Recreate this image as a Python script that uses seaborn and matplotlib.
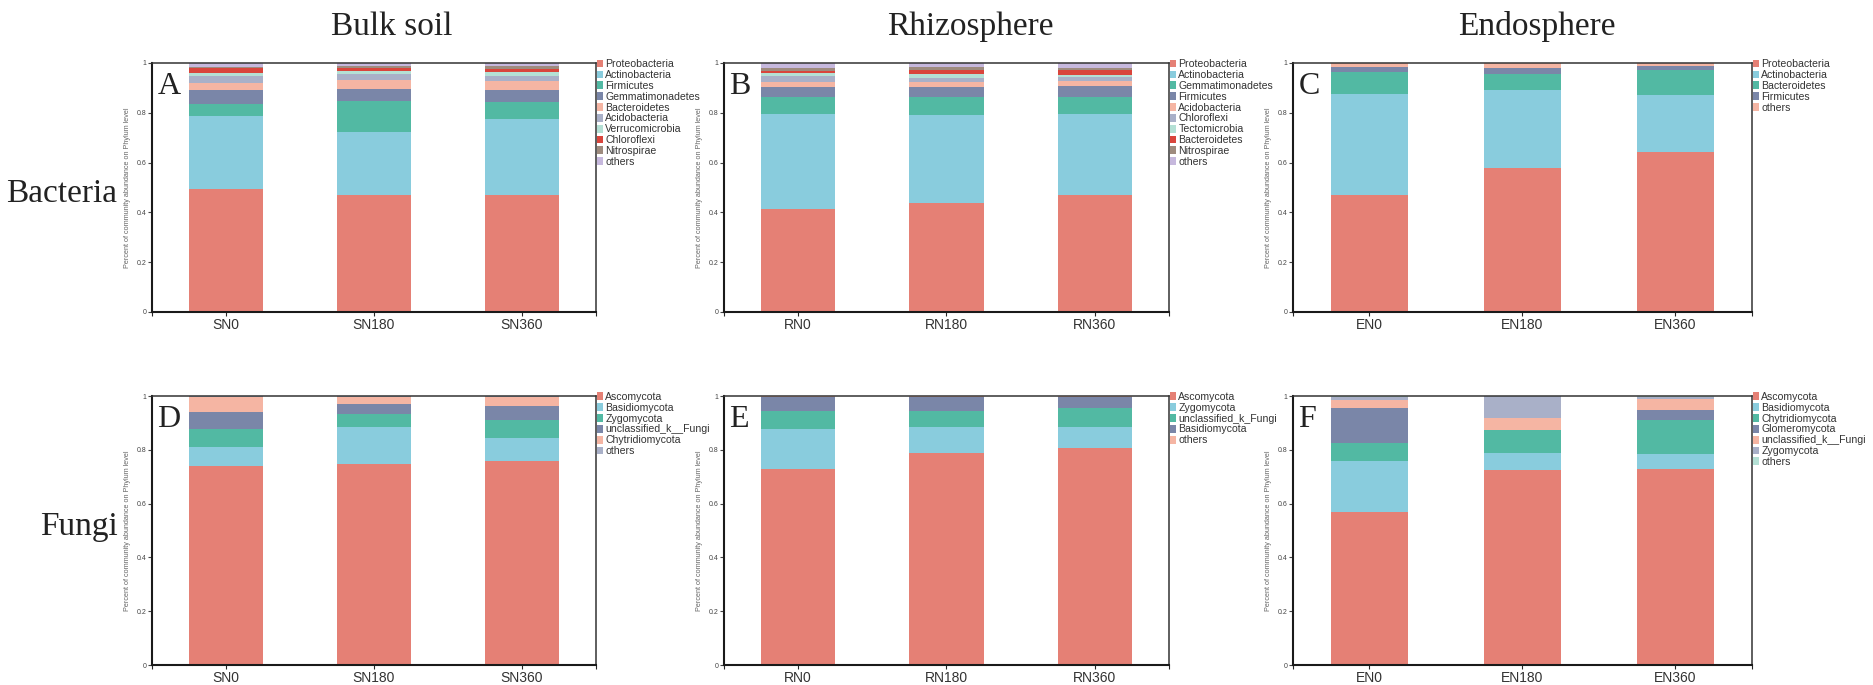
import numpy as np
import seaborn as sns
import matplotlib.pyplot as plt
from matplotlib.patches import Patch

# ---- data (relative abundance, stacked bottom -> top) ----
BULK_SAMPLES = ["SN0", "SN180", "SN360"]
RHIZO_SAMPLES = ["RN0", "RN180", "RN360"]
ENDO_SAMPLES = ["EN0", "EN180", "EN360"]

A_TAXA = ["Proteobacteria", "Actinobacteria", "Firmicutes", "Gemmatimonadetes",
          "Bacteroidetes", "Acidobacteria", "Verrucomicrobia", "Chloroflexi",
          "Nitrospirae", "others"]
A_VALUES = [
    [0.495, 0.471, 0.471],
    [0.292, 0.252, 0.306],
    [0.050, 0.125, 0.068],
    [0.054, 0.048, 0.046],
    [0.030, 0.036, 0.036],
    [0.025, 0.022, 0.021],
    [0.013, 0.013, 0.014],
    [0.020, 0.011, 0.014],
    [0.006, 0.008, 0.010],
    [0.015, 0.014, 0.014],
]

B_TAXA = ["Proteobacteria", "Actinobacteria", "Gemmatimonadetes", "Firmicutes",
          "Acidobacteria", "Chloroflexi", "Tectomicrobia", "Bacteroidetes",
          "Nitrospirae", "others"]
B_VALUES = [
    [0.415, 0.437, 0.468],
    [0.381, 0.353, 0.326],
    [0.066, 0.072, 0.068],
    [0.040, 0.040, 0.044],
    [0.023, 0.023, 0.022],
    [0.022, 0.014, 0.014],
    [0.012, 0.016, 0.008],
    [0.008, 0.015, 0.020],
    [0.013, 0.012, 0.010],
    [0.020, 0.018, 0.020],
]

C_TAXA = ["Proteobacteria", "Actinobacteria", "Bacteroidetes", "Firmicutes", "others"]
C_VALUES = [
    [0.470, 0.579, 0.644],
    [0.407, 0.314, 0.226],
    [0.086, 0.062, 0.103],
    [0.019, 0.024, 0.013],
    [0.018, 0.021, 0.014],
]

D_TAXA = ["Ascomycota", "Basidiomycota", "Zygomycota", "unclassified_k__Fungi",
          "Chytridiomycota", "others"]
D_VALUES = [
    [0.739, 0.749, 0.759],
    [0.072, 0.134, 0.086],
    [0.066, 0.049, 0.066],
    [0.065, 0.037, 0.053],
    [0.056, 0.029, 0.033],
    [0.002, 0.002, 0.003],
]

E_TAXA = ["Ascomycota", "Zygomycota", "unclassified_k_Fungi", "Basidiomycota", "others"]
E_VALUES = [
    [0.728, 0.787, 0.806],
    [0.148, 0.099, 0.080],
    [0.069, 0.059, 0.071],
    [0.050, 0.050, 0.038],
    [0.005, 0.005, 0.005],
]

F_TAXA = ["Ascomycota", "Basidiomycota", "Chytridiomycota", "Glomeromycota",
          "unclassified_k__Fungi", "Zygomycota", "others"]
F_VALUES = [
    [0.570, 0.724, 0.728],
    [0.188, 0.063, 0.057],
    [0.067, 0.086, 0.124],
    [0.131, 0.002, 0.038],
    [0.029, 0.045, 0.040],
    [0.012, 0.080, 0.010],
    [0.003, 0.000, 0.003],
]

COLUMN_TITLES = ["Bulk soil", "Rhizosphere", "Endosphere"]
ROW_TITLES = ["Bacteria", "Fungi"]

PALETTE = ["#E58075", "#89CCDD", "#52B9A3", "#7A86A8", "#F5B5A3",
           "#A9B0C8", "#B4E0D5", "#D9453C", "#9E8B7E", "#C6B8DD"]

sns.set_theme(style="ticks")
plt.rcParams["font.family"] = ["Liberation Sans", "DejaVu Sans"]
SERIF = ["Liberation Serif", "DejaVu Serif"]


def draw_panel(ax, samples, taxa, values, letter):
    cum = np.cumsum(np.array(values), axis=0)
    # draw cumulative totals from the top layer down so each layer overlays
    for i in reversed(range(len(taxa))):
        sns.barplot(x=samples, y=cum[i], color=PALETTE[i], width=0.5,
                    saturation=1, linewidth=0, ax=ax)
    ax.set_xlim(-0.5, 2.5)
    ax.set_ylim(0, 1)
    ax.set_yticks([0, 0.2, 0.4, 0.6, 0.8, 1.0])
    ax.set_yticklabels(["0", "0.2", "0.4", "0.6", "0.8", "1"])
    ax.set_xticks([-0.5, 2.5], minor=True)
    ax.tick_params(axis="y", labelsize=5, colors="#444", length=3, width=0.8, pad=1)
    ax.tick_params(axis="x", which="both", labelsize=10, labelcolor="#333",
                   length=3, width=0.8, pad=1)
    ax.set_ylabel("Percent of community abundance on Phylum level",
                  fontsize=5.2, color="#666", labelpad=4)
    ax.set_xlabel("")
    for side in ["left", "bottom"]:
        ax.spines[side].set_linewidth(1.5)
        ax.spines[side].set_color("#1a1a1a")
    for side in ["top", "right"]:
        ax.spines[side].set_visible(True)
        ax.spines[side].set_linewidth(1.1)
        ax.spines[side].set_color("#333")
    ax.text(0.012, 0.965, letter, transform=ax.transAxes, ha="left", va="top",
            fontsize=23, family=SERIF, color="#222")
    handles = [Patch(facecolor=PALETTE[i], edgecolor="none", label=t)
               for i, t in enumerate(taxa)]
    leg = ax.legend(handles=handles, loc="upper left", bbox_to_anchor=(1.003, 1.015),
                    frameon=False, fontsize=7.6, labelspacing=0.08,
                    handlelength=0.55, handleheight=0.75, handletextpad=0.2,
                    borderpad=0, borderaxespad=0)
    for txt in leg.get_texts():
        txt.set_color("#333")


fig = plt.figure(figsize=(18.74, 6.85), dpi=100)

W, H = 1874, 685
col_px = [(152, 596), (724, 1169), (1293, 1752)]
row_px = [(63, 312), (396, 665)]

panels = [
    [(BULK_SAMPLES, A_TAXA, A_VALUES, "A"),
     (RHIZO_SAMPLES, B_TAXA, B_VALUES, "B"),
     (ENDO_SAMPLES, C_TAXA, C_VALUES, "C")],
    [(BULK_SAMPLES, D_TAXA, D_VALUES, "D"),
     (RHIZO_SAMPLES, E_TAXA, E_VALUES, "E"),
     (ENDO_SAMPLES, F_TAXA, F_VALUES, "F")],
]

for r, (top, bot) in enumerate(row_px):
    for c, (left, right) in enumerate(col_px):
        ax = fig.add_axes([left / W, 1 - bot / H, (right - left) / W, (bot - top) / H])
        samples, taxa, values, letter = panels[r][c]
        draw_panel(ax, samples, taxa, values, letter)

for x, title in zip([392, 970, 1537], COLUMN_TITLES):
    fig.text(x / W, 1 - 27 / H, title, ha="center", va="center",
             fontsize=24, family=SERIF, color="#222")
for (x, y), title in zip([(62, 194), (79, 527)], ROW_TITLES):
    fig.text(x / W, 1 - y / H, title, ha="center", va="center",
             fontsize=24, family=SERIF, color="#222")

fig.savefig("out.png", dpi=100, facecolor="white")
